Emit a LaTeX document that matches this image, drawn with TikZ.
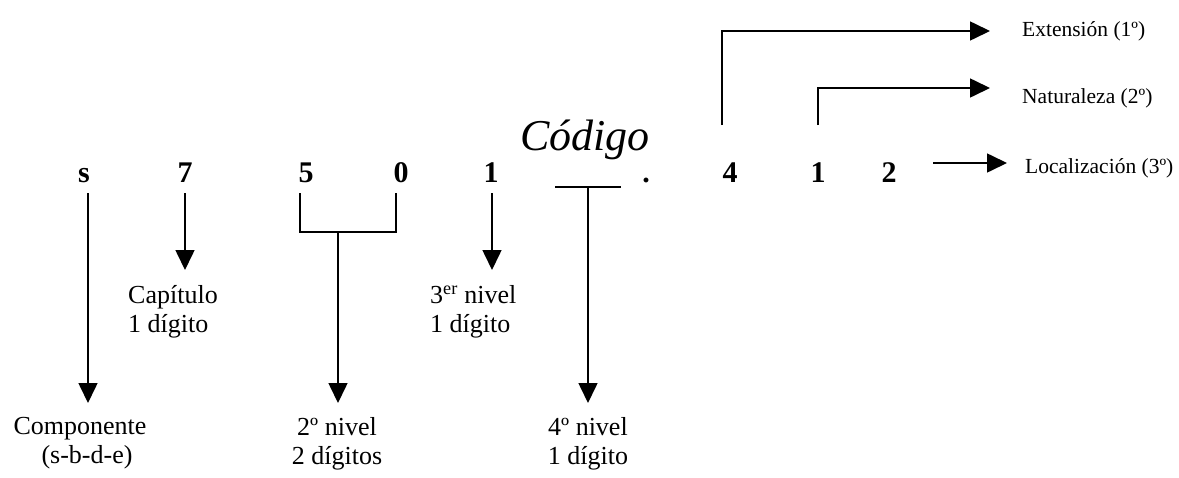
\documentclass[tikz,border=0pt]{standalone}
\usepackage{fontspec}
\setmainfont{Liberation Serif}
\usetikzlibrary{arrows.meta,calc}
\begin{document}
\begin{tikzpicture}[x=1pt,y=-1pt,
  digit/.style={font=\fontsize{30}{34}\selectfont\bfseries, anchor=base, inner sep=0pt},
  lbl/.style={font=\fontsize{26}{29}\selectfont, align=center, anchor=north, inner sep=0pt},
  lbll/.style={font=\fontsize{26}{29}\selectfont, align=left, anchor=north west, inner sep=0pt},
  rlbl/.style={font=\fontsize{21.5}{24}\selectfont, anchor=base west, inner sep=0pt},
  arr/.style={line width=1.6pt, -{Triangle[length=20pt,width=19pt]}},
  ln/.style={line width=1.8pt}]
\useasboundingbox (0,0) rectangle (1179,477);
% title
\node[font=\fontsize{44}{50}\selectfont\itshape, anchor=base, inner sep=0pt] (cod) at (585,150) {Código};
% code digits
\node[digit] (s) at (84,182) {s};
\node[digit] (d7) at (185,182) {7};
\node[digit] (d5) at (306,182) {5};
\node[digit] (d0) at (401,182) {0};
\node[digit] (d1) at (491,182) {1};
\node[minimum width=65pt, minimum height=0pt, inner sep=0pt, anchor=south] (blank) at (588,187) {};
\draw[ln] (blank.south west) -- (blank.south east);
\node[digit] (dot) at (646,182) {.};
\node[digit] (d4) at (730,182) {4};
\node[digit] (e1) at (818,182) {1};
\node[digit] (e2) at (889,182) {2};
% lower labels
\node[lbl] (comp) at (80,417) {Componente\\\hspace*{14pt}(s-b-d-e)};
\node[lbll] (cap) at (128,285) {Capítulo\\1 dígito};
\node[lbl] (lv2) at (337,417) {2º nivel\\2 dígitos};
\node[lbll] (lv3) at (430,285) {3\textsuperscript{er} nivel\\1 dígito};
\node[lbl] (lv4) at (588,417) {4º nivel\\1 dígito};
% right labels
\node[rlbl] (ext) at (1022,36) {Extensión (1º)};
\node[rlbl] (nat) at (1022,103) {Naturaleza (2º)};
\node[rlbl] (loc) at (1025,173) {Localización (3º)};
% downward connectors
\draw[arr] ([xshift=4pt,yshift=-11pt]s.base) -- ([xshift=4pt,yshift=14pt]s.base |- comp.north);
\draw[arr] ([yshift=-11pt]d7.base) -- ([yshift=15pt]d7.base |- cap.north);
\draw[ln] ([xshift=-6pt,yshift=-11pt]d5.base) -- ([xshift=-6pt,yshift=-50pt]d5.base)
          -- ([xshift=-5pt,yshift=-50pt]d0.base) -- ([xshift=-5pt,yshift=-11pt]d0.base);
\coordinate (brk) at (338,232);
\draw[arr] (brk) -- ([yshift=14pt]brk |- lv2.north);
\draw[arr] ([xshift=1pt,yshift=-11pt]d1.base) -- ([xshift=1pt,yshift=15pt]d1.base |- lv3.north);
\draw[arr] (blank.south) -- ([yshift=14pt]blank.south |- lv4.north);
% right connectors
\draw[arr] ([xshift=-8pt,yshift=57pt]d4.base) |- ([xshift=-32pt,yshift=5pt]ext.base west);
\draw[arr] ([yshift=57pt]e1.base) |- ([xshift=-32pt,yshift=15pt]nat.base west);
\draw[arr] ([xshift=44pt,yshift=19pt]e2.base) -- ([xshift=-18pt,yshift=10pt]loc.base west);
\end{tikzpicture}
\end{document}
